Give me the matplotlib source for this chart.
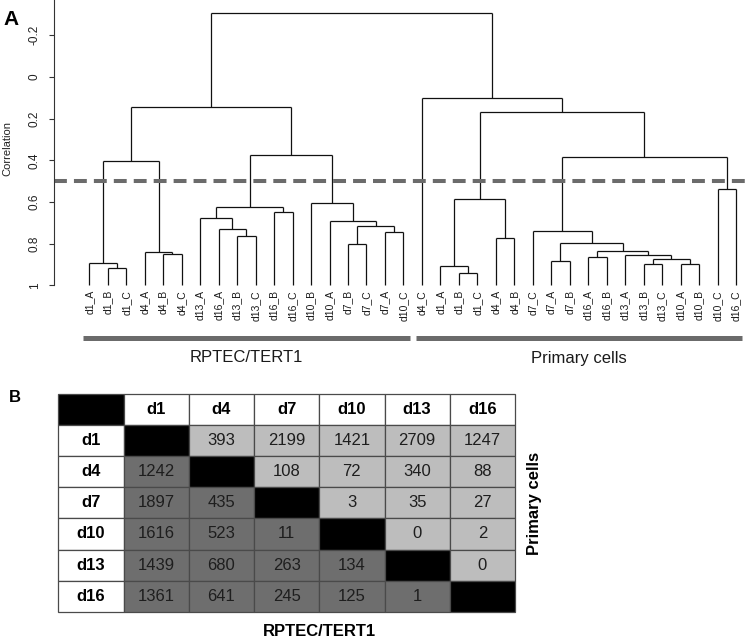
import matplotlib
matplotlib.use("Agg")
import matplotlib.pyplot as plt
from matplotlib.patches import Rectangle

plt.rcParams['font.family'] = ['Liberation Sans', 'DejaVu Sans']

# ---------------- data ----------------
leaf_labels = ["d1_A", "d1_B", "d1_C", "d4_A", "d4_B", "d4_C", "d13_A", "d16_A", "d13_B",
               "d13_C", "d16_B", "d16_C", "d10_B", "d10_A", "d7_B", "d7_C", "d7_A", "d10_C",
               "d4_C", "d1_A", "d1_B", "d1_C", "d4_A", "d4_B", "d7_C", "d7_A", "d7_B",
               "d16_A", "d16_B", "d13_A", "d13_B", "d13_C", "d10_A", "d10_B", "d10_C", "d16_C"]

# hclust-style merge table: negative = leaf (1-based), positive = earlier merge (1-based)
merge_a = [-2, -1, -5, -4, 2, -9, -8, -7, -11, 8, -15, -17, 11, -14, -13, 10, 5,
           -21, -20, -23, 19, -26, -28, -31, -33, 24, -30, 23, 22, -25, -35, 30, 21, -19, 17]
merge_b = [-3, 1, -6, 3, 4, -10, 6, 7, -12, 9, -16, -18, 12, 13, 14, 15, 16,
           -22, 18, -24, 20, -27, -29, -32, -34, 25, 26, 27, 28, 29, -36, 31, 32, 33, 34]
merge_h = [0.919, 0.895, 0.848, 0.838, 0.405, 0.763, 0.731, 0.678, 0.650, 0.623, 0.802,
           0.746, 0.715, 0.690, 0.607, 0.376, 0.146,
           0.939, 0.905, 0.773, 0.586, 0.882, 0.863, 0.898, 0.898, 0.872, 0.855, 0.833,
           0.799, 0.739, 0.538, 0.383, 0.166, 0.099, -0.306]

cut_height = 0.5
y_ticks = [-0.2, 0, 0.2, 0.4, 0.6, 0.8, 1]
y_ticklabels = ["-0.2", "0", "0.2", "0.4", "0.6", "0.8", "1"]

group_names = ["RPTEC/TERT1", "Primary cells"]
group_start = [1, 19]
group_end = [18, 36]

table_cols = ["d1", "d4", "d7", "d10", "d13", "d16"]
table_rows = ["d1", "d4", "d7", "d10", "d13", "d16"]
table_vals = [
    [None, 393, 2199, 1421, 2709, 1247],
    [1242, None, 108, 72, 340, 88],
    [1897, 435, None, 3, 35, 27],
    [1616, 523, 11, None, 0, 2],
    [1439, 680, 263, 134, None, 0],
    [1361, 641, 245, 125, 1, None],
]

# ---------------- figure ----------------
W, H = 750, 639
fig = plt.figure(figsize=(W / 100, H / 100), dpi=100)

# dendrogram axes (pixel geometry)
ax_left_px, ax_right_px, ax_top_px, ax_bot_px = 54, 750, 0, 372
v0_px, px_per_unit = 77.0, 208.3          # pixel of v=0, pixels per unit
leaf1_px, leaf_step = 89.3, 18.477

ax = fig.add_axes([ax_left_px / W, 1 - ax_bot_px / H,
                   (ax_right_px - ax_left_px) / W, (ax_bot_px - ax_top_px) / H])
ax.set_ylim((ax_bot_px - v0_px) / px_per_unit, (ax_top_px - v0_px) / px_per_unit)
ax.set_xlim(1 - (leaf1_px - ax_left_px) / leaf_step, 1 + (ax_right_px - leaf1_px) / leaf_step)

n = len(leaf_labels)
bottom = 1.0
mx, mh = [], []
def node(i):
    if i < 0:
        return float(-i), bottom
    return mx[i - 1], mh[i - 1]

lc = "#111111"
for a, b, h in zip(merge_a, merge_b, merge_h):
    xa, ha = node(a)
    xb, hb = node(b)
    ax.plot([xa, xa], [ha, h], color=lc, lw=0.9, solid_capstyle='butt')
    ax.plot([xb, xb], [hb, h], color=lc, lw=0.9, solid_capstyle='butt')
    ax.plot([xa, xb], [h, h], color=lc, lw=0.9, solid_capstyle='butt')
    mx.append((xa + xb) / 2)
    mh.append(h)

ax.axhline(cut_height, color="#6b6b6b", lw=2.9, dashes=(3.2, 1.75))

label_top_v = (290 - v0_px) / px_per_unit
for i, lab in enumerate(leaf_labels):
    ax.text(i + 1, label_top_v, lab, rotation=90, ha='center', va='top',
            fontsize=7.5, color="#1a1a1a")

bar_v = (337.5 - v0_px) / px_per_unit
glabel_v = (358 - v0_px) / px_per_unit
for name, s, e in zip(group_names, group_start, group_end):
    ax.plot([s - 0.32, e + 0.35], [bar_v, bar_v], color="#6b6b6b", lw=3.6,
            solid_capstyle='butt', clip_on=False)
    ax.text((s + e) / 2, glabel_v, name, ha='center', va='center', fontsize=12,
            color="#1a1a1a")

for sp in ['top', 'right', 'bottom']:
    ax.spines[sp].set_visible(False)
ax.spines['left'].set_bounds(1.0, (ax_top_px - v0_px) / px_per_unit)
ax.spines['left'].set_color("#333333")
ax.spines['left'].set_linewidth(0.8)
ax.set_xticks([])
ax.set_yticks(y_ticks)
ax.set_yticklabels(y_ticklabels, rotation=90, va='center', fontsize=8.5, color="#222222")
ax.tick_params(axis='y', length=3.6, width=0.8, pad=6.0, color="#333333")
fig.text(7.5 / W, 1 - 148 / H, "Correlation", rotation=90, ha='center', va='center',
         fontsize=8, color="#222222")

fig.text(3 / W, 1 - 25 / H, "A", fontsize=15, fontweight='bold', ha='left', va='baseline')
fig.text(8.5 / W, 1 - 402 / H, "B", fontsize=12, fontweight='bold', ha='left', va='baseline')

# ---------------- table ----------------
t_left, t_right, t_top, t_bot = 58.3, 515.0, 394.0, 611.7
tax = fig.add_axes([t_left / W, 1 - t_bot / H, (t_right - t_left) / W, (t_bot - t_top) / H])
nc = len(table_cols) + 1
tax.set_xlim(0, nc)
tax.set_ylim(nc, 0)
tax.axis('off')

light, dark, edge = "#bdbdbd", "#6e6e6e", "#4a4a4a"
def cell(c, r, fc):
    tax.add_patch(Rectangle((c, r), 1, 1, facecolor=fc, edgecolor=edge, lw=0.9, clip_on=False))

cell(0, 0, "black")
for j, name in enumerate(table_cols):
    cell(j + 1, 0, "white")
    tax.text(j + 1.5, 0.5, name, ha='center', va='center', fontsize=12, fontweight='bold')
for i, name in enumerate(table_rows):
    cell(0, i + 1, "white")
    tax.text(0.5, i + 1.5, name, ha='center', va='center', fontsize=12, fontweight='bold')
    for j in range(len(table_cols)):
        v = table_vals[i][j]
        if i == j:
            cell(j + 1, i + 1, "black")
            continue
        cell(j + 1, i + 1, light if j > i else dark)
        tax.text(j + 1.5, i + 1.5, str(v), ha='center', va='center', fontsize=12,
                 color="#1e1e1e")

fig.text(319.5 / W, 1 - 631.5 / H, "RPTEC/TERT1", ha='center', va='center', fontsize=12,
         fontweight='bold')
fig.text(535 / W, 1 - 503 / H, "Primary cells", rotation=90, ha='center', va='center',
         fontsize=12, fontweight='bold')

fig.savefig("out.png", dpi=100)
